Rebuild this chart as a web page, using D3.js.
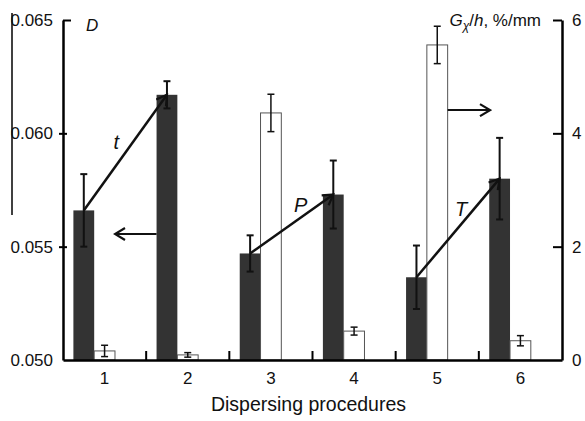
<!DOCTYPE html>
<html>
<head>
<meta charset="utf-8">
<script src="https://cdn.jsdelivr.net/npm/d3@7"></script>
<style>
  body { margin: 0; background: #fff; }
  svg { font-family: "Liberation Sans", Arial, sans-serif; }
  .axis path, .axis line { stroke: #000; }
  .axis text { font-size: 17px; fill: #111; }
</style>
</head>
<body>
<div class="wrapper"></div>
<script>
// data
var categories = ["1", "2", "3", "4", "5", "6"];
var dValues = [0.0566, 0.0617, 0.0547, 0.0573, 0.05365, 0.0580];   // D, left axis
var dErrors = [0.0016, 0.0006, 0.0008, 0.0015, 0.0014, 0.0018];
var gValues = [0.16, 0.09, 4.36, 0.51, 5.56, 0.34];               // Gx/h, right axis
var gErrors = [0.10, 0.04, 0.33, 0.07, 0.33, 0.09];
var leftTicks = [0.050, 0.055, 0.060, 0.065];
var rightTicks = [0, 2, 4, 6];
var trendArrows = [[0, 1, "t"], [2, 3, "P"], [4, 5, "T"]];  // from bar, to bar, label

var width = 585, height = 421;
var plotLeft = 63, plotRight = 562, plotTop = 20, plotBottom = 360;

var svg = d3.select(".wrapper").append("svg")
    .attr("width", width)
    .attr("height", height);

var defs = svg.append("defs");
defs.append("marker")
    .attr("id", "chev")
    .attr("viewBox", "-11 -7 13 14")
    .attr("refX", 0).attr("refY", 0)
    .attr("markerWidth", 13).attr("markerHeight", 14)
    .attr("markerUnits", "userSpaceOnUse")
    .attr("orient", "auto")
    .append("path")
    .attr("d", "M-10,-6L0,0L-10,6")
    .attr("fill", "none")
    .attr("stroke", "#111")
    .attr("stroke-width", 2.2);

var x = d3.scaleBand().domain(categories).range([plotLeft, plotRight]);
var sub = d3.scaleBand().domain([0, 1, 2]).range([0, x.bandwidth()]).paddingOuter(0.5);
var yL = d3.scaleLinear().domain([0.050, 0.065]).range([plotBottom, plotTop]);
var yR = d3.scaleLinear().domain([0, 6]).range([plotBottom, plotTop]);
var bw = sub.bandwidth();

// stray scan line at the far left
svg.append("line")
    .attr("x1", 12).attr("x2", 12).attr("y1", 13).attr("y2", 215)
    .attr("stroke", "#000").attr("stroke-width", 1.5);

// dark bars (D)
svg.selectAll("rect.d")
    .data(dValues)
    .enter().append("rect")
    .attr("class", "d")
    .attr("x", function(d, i) { return x(categories[i]) + sub(0); })
    .attr("y", function(d) { return yL(d); })
    .attr("width", bw)
    .attr("height", function(d) { return plotBottom - yL(d); })
    .attr("fill", "#333");

// white bars (Gx/h)
svg.selectAll("rect.g")
    .data(gValues)
    .enter().append("rect")
    .attr("class", "g")
    .attr("x", function(d, i) { return x(categories[i]) + sub(1); })
    .attr("y", function(d) { return yR(d); })
    .attr("width", bw)
    .attr("height", function(d) { return plotBottom - yR(d); })
    .attr("fill", "#fff")
    .attr("stroke", "#555")
    .attr("stroke-width", 1);

function errorBars(values, errors, scale, slot, cap, sw) {
    var g = svg.append("g").attr("stroke", "#111").attr("stroke-width", sw);
    values.forEach(function(v, i) {
        var cx = x(categories[i]) + sub(slot) + bw / 2;
        var y1 = scale(v + errors[i]), y2 = scale(v - errors[i]);
        g.append("line").attr("x1", cx).attr("x2", cx).attr("y1", y1).attr("y2", y2);
        g.append("line").attr("x1", cx - cap).attr("x2", cx + cap).attr("y1", y1).attr("y2", y1);
        g.append("line").attr("x1", cx - cap).attr("x2", cx + cap).attr("y1", y2).attr("y2", y2);
    });
}
errorBars(dValues, dErrors, yL, 0, 3.5, 2);
errorBars(gValues, gErrors, yR, 1, 3.5, 1.5);

// trend arrows between dark bars
var labelOffsets = [[-9, -11], [9, -19], [3, -19]];
trendArrows.forEach(function(a, k) {
    var x1 = x(categories[a[0]]) + sub(0) + bw / 2, y1 = yL(dValues[a[0]]);
    var x2 = x(categories[a[1]]) + sub(0) + bw / 2, y2 = yL(dValues[a[1]]);
    svg.append("line")
        .attr("x1", x1).attr("y1", y1).attr("x2", x2).attr("y2", y2)
        .attr("stroke", "#111").attr("stroke-width", 2.5)
        .attr("marker-end", "url(#chev)");
    svg.append("text")
        .attr("x", (x1 + x2) / 2 + labelOffsets[k][0])
        .attr("y", (y1 + y2) / 2 + labelOffsets[k][1])
        .attr("text-anchor", "middle")
        .attr("dy", "0.35em")
        .attr("font-size", 20)
        .attr("font-style", "italic")
        .attr("fill", "#111")
        .text(a[2]);
});

// arrows pointing to each axis
var leftArrowY = yL(0.05556), rightArrowY = yR(4.41);
svg.append("line")
    .attr("x1", x("2") + sub(0)).attr("x2", 115)
    .attr("y1", leftArrowY).attr("y2", leftArrowY)
    .attr("stroke", "#111").attr("stroke-width", 2)
    .attr("marker-end", "url(#chev)");
svg.append("line")
    .attr("x1", x("5") + sub(1) + bw).attr("x2", 490)
    .attr("y1", rightArrowY).attr("y2", rightArrowY)
    .attr("stroke", "#111").attr("stroke-width", 2)
    .attr("marker-end", "url(#chev)");

// left axis
var axL = svg.append("g")
    .attr("class", "axis")
    .attr("transform", "translate(" + plotLeft + ",0)")
    .call(d3.axisLeft(yL).tickValues(leftTicks).tickFormat(d3.format(".3f"))
        .tickSizeInner(4).tickSizeOuter(0).tickPadding(6));
axL.select(".domain").attr("stroke-width", 2.5);
axL.selectAll(".tick line").attr("stroke-width", 2)
    .attr("x1", function(d) { return d === 0.065 ? 0 : 4; })
    .attr("x2", function(d) { return d === 0.065 ? 8 : -4; })
    .style("display", function(d) { return d === 0.050 ? "none" : null; });

// right axis
var axR = svg.append("g")
    .attr("class", "axis")
    .attr("transform", "translate(" + plotRight + ",0)")
    .call(d3.axisRight(yR).tickValues(rightTicks).tickFormat(d3.format("d"))
        .tickSizeInner(-9).tickSizeOuter(0).tickPadding(10));
axR.select(".domain").attr("stroke-width", 2.5);
axR.selectAll(".tick line").attr("stroke-width", 2)
    .style("display", function(d) { return d === 0 ? "none" : null; });
axR.selectAll(".tick text").attr("x", 10).attr("font-size", 18);

// bottom axis: category labels centred, ticks on the boundaries
var axB = svg.append("g")
    .attr("class", "axis")
    .attr("transform", "translate(0," + plotBottom + ")")
    .call(d3.axisBottom(x).tickSize(0).tickPadding(12));
axB.select(".domain").attr("stroke-width", 2.5);
axB.selectAll(".tick text").attr("font-size", 18);
svg.append("g").selectAll("line")
    .data(categories.slice(1))
    .enter().append("line")
    .attr("x1", function(d) { return x(d); })
    .attr("x2", function(d) { return x(d); })
    .attr("y1", plotBottom).attr("y2", plotBottom - 9)
    .attr("stroke", "#000").attr("stroke-width", 2);

// titles
svg.append("text")
    .attr("x", (plotLeft + plotRight) / 2 - 4).attr("y", 411)
    .attr("text-anchor", "middle")
    .attr("font-size", 19.5)
    .attr("fill", "#111")
    .text("Dispersing procedures");

svg.append("text")
    .attr("x", 86).attr("y", 31)
    .attr("font-size", 17)
    .attr("font-style", "italic")
    .attr("fill", "#111")
    .text("D");

var gt = svg.append("text")
    .attr("x", 541).attr("y", 26)
    .attr("text-anchor", "end")
    .attr("font-size", 17)
    .attr("fill", "#111");
gt.append("tspan").attr("font-style", "italic").text("G");
gt.append("tspan").attr("font-style", "italic").attr("font-size", 12).attr("dy", 4).text("χ");
gt.append("tspan").attr("dy", -4).text("/");
gt.append("tspan").attr("font-style", "italic").text("h");
gt.append("tspan").text(", %/mm");
</script>
</body>
</html>
